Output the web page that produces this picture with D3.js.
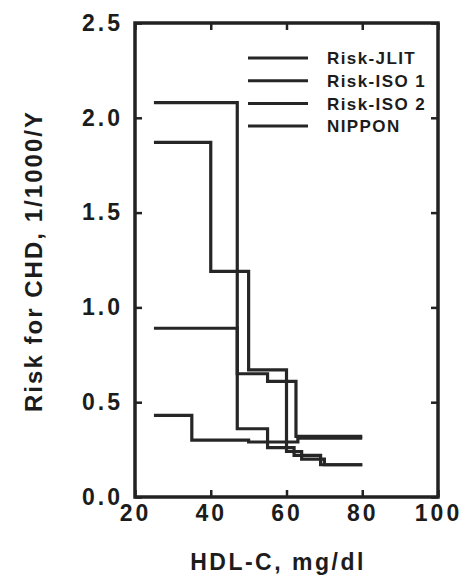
<!DOCTYPE html>
<html>
<head>
<meta charset="utf-8">
<script src="https://cdn.jsdelivr.net/npm/d3@7"></script>
<style>
  body { margin: 0; background: #fff; }
  svg text { font-family: "Liberation Sans", Arial, sans-serif; font-weight: bold; fill: #1c1c1c; }
</style>
</head>
<body>
<script>
// series names (legend order)
var names = ["Risk-JLIT", "Risk-ISO 1", "Risk-ISO 2", "NIPPON"];

// step breakpoints, HDL-C (mg/dl) and risk value from that point on
var hdlJLIT  = [25, 47, 55, 62, 69, 80];
var riskJLIT = [2.08, 0.36, 0.26, 0.22, 0.17, 0.17];

var hdlISO1  = [25, 40, 50, 60, 64, 70, 80];
var riskISO1 = [1.87, 1.19, 0.67, 0.24, 0.20, 0.17, 0.17];

var hdlISO2  = [25, 47, 55, 62.5, 80];
var riskISO2 = [0.89, 0.65, 0.61, 0.32, 0.32];

var hdlNIP   = [25, 35, 50, 63, 80];
var riskNIP  = [0.43, 0.30, 0.29, 0.31, 0.31];

var xTicks = [20, 40, 60, 80, 100];
var yTicks = [0.0, 0.5, 1.0, 1.5, 2.0, 2.5];

function chart() {
  var W = 462, H = 578;
  var left = 135, right = 438, top = 23, bottom = 497;
  var ink = "#222";

  var svg = d3.select("body").append("svg")
      .attr("width", W)
      .attr("height", H);

  var x = d3.scaleLinear().domain([20, 100]).range([left, right]);
  var y = d3.scaleLinear().domain([0, 2.5]).range([bottom, top]);

  // axes, ticks pointing inward
  var xAxis = d3.axisBottom(x).tickValues(xTicks).tickFormat(d3.format("d"))
      .tickSize(-7).tickPadding(8);
  var yAxis = d3.axisLeft(y).tickValues(yTicks).tickFormat(d3.format(".1f"))
      .tickSize(-7).tickPadding(12);

  svg.append("g").attr("transform", "translate(0," + bottom + ")").call(xAxis);
  svg.append("g").attr("transform", "translate(" + left + ",0)").call(yAxis);
  svg.append("g").attr("transform", "translate(0," + top + ")")
      .call(d3.axisTop(x).tickValues(xTicks).tickFormat("").tickSize(-7));
  svg.append("g").attr("transform", "translate(" + right + ",0)")
      .call(d3.axisRight(y).tickValues(yTicks).tickFormat("").tickSize(-7));

  svg.selectAll(".domain").remove();
  svg.selectAll(".tick line").attr("stroke", ink).attr("stroke-width", 2.5);
  svg.selectAll(".tick text")
      .style("font-size", "23px").style("letter-spacing", "3px")
      .attr("fill", "#1c1c1c");

  // frame
  svg.append("rect")
      .attr("x", left).attr("y", top)
      .attr("width", right - left).attr("height", bottom - top)
      .attr("fill", "none").attr("stroke", ink).attr("stroke-width", 3.5);

  // step lines
  var series = [
    {name: names[0], hdl: hdlJLIT, risk: riskJLIT},
    {name: names[1], hdl: hdlISO1, risk: riskISO1},
    {name: names[2], hdl: hdlISO2, risk: riskISO2},
    {name: names[3], hdl: hdlNIP,  risk: riskNIP}
  ];

  var line = d3.line()
      .x(function(d) { return x(d[0]); })
      .y(function(d) { return y(d[1]); })
      .curve(d3.curveStepAfter);

  svg.selectAll(".step")
      .data(series)
      .enter().append("path")
      .attr("class", "step")
      .attr("d", function(s) { return line(d3.zip(s.hdl, s.risk)); })
      .attr("fill", "none")
      .attr("stroke", "#262626")
      .attr("stroke-width", 3.2);

  // legend
  var leg = svg.selectAll(".leg")
      .data(names)
      .enter().append("g")
      .attr("class", "leg")
      .attr("transform", function(d, i) { return "translate(248," + (58 + i * 22.7) + ")"; });
  leg.append("line")
      .attr("x1", 0).attr("x2", 60)
      .attr("stroke", "#262626").attr("stroke-width", 3);
  leg.append("text")
      .attr("x", 79).attr("dy", "0.36em")
      .style("font-size", "17px").style("letter-spacing", "1.4px")
      .text(function(d) { return d; });

  // axis titles
  svg.append("text")
      .attr("x", 278).attr("y", 570)
      .attr("text-anchor", "middle")
      .style("font-size", "23px").style("letter-spacing", "2.5px")
      .text("HDL-C, mg/dl");

  svg.append("text")
      .attr("transform", "translate(42,262) rotate(-90)")
      .attr("text-anchor", "middle")
      .attr("textLength", 300)
      .attr("lengthAdjust", "spacing")
      .style("font-size", "24px")
      .text("Risk for CHD, 1/1000/Y");
}

window.onload = chart();
</script>
</body>
</html>
